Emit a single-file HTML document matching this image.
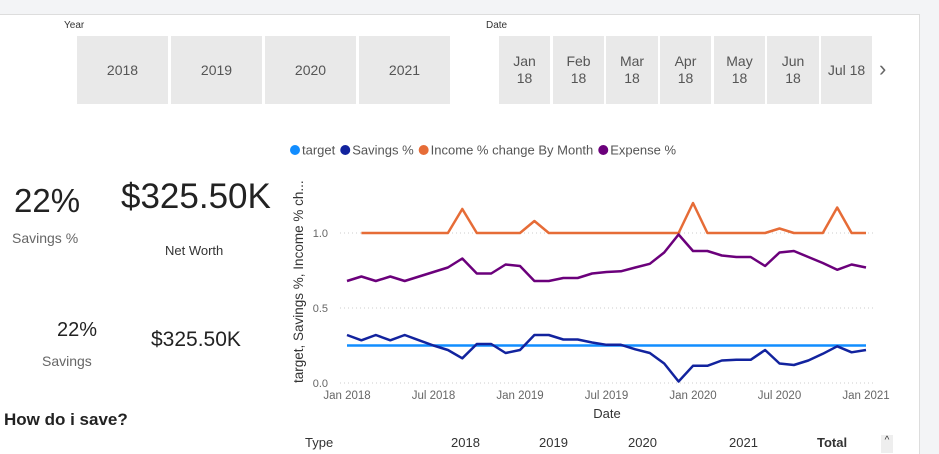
<!DOCTYPE html>
<html><head><meta charset="utf-8"><style>
body{margin:0;width:939px;height:453px;background:#f3f4f6;font-family:"Liberation Sans",sans-serif;overflow:hidden;position:relative}
#panel{position:absolute;left:0;top:14px;width:919px;height:439px;background:#fff;border-top:1px solid #ddd;border-right:1px solid #ddd}
.abs{position:absolute}
.tile{position:absolute;background:#e9e9e9;color:#555;font-size:14px;display:flex;align-items:center;justify-content:center;text-align:center;line-height:17px}
.lbl{font-size:10px;color:#333}
</style></head><body>
<div id="panel"></div>
<div class="abs lbl" style="left:64px;top:20px">Year</div>
<div class="tile" style="left:77px;top:36px;width:91px;height:68px">2018</div>
<div class="tile" style="left:171px;top:36px;width:91px;height:68px">2019</div>
<div class="tile" style="left:265px;top:36px;width:91px;height:68px">2020</div>
<div class="tile" style="left:359px;top:36px;width:91px;height:68px">2021</div>
<div class="abs lbl" style="left:486px;top:20px">Date</div>
<div class="tile" style="left:499px;top:36px;width:51px;height:68px">Jan<br>18</div>
<div class="tile" style="left:553px;top:36px;width:51px;height:68px">Feb<br>18</div>
<div class="tile" style="left:606px;top:36px;width:52px;height:68px">Mar<br>18</div>
<div class="tile" style="left:660px;top:36px;width:51px;height:68px">Apr<br>18</div>
<div class="tile" style="left:714px;top:36px;width:51px;height:68px">May<br>18</div>
<div class="tile" style="left:767px;top:36px;width:52px;height:68px">Jun<br>18</div>
<div class="tile" style="left:821px;top:36px;width:51px;height:68px">Jul 18</div>
<div class="abs" style="left:879px;top:56px;font-size:22px;color:#666">&#8250;</div>

<div class="abs" style="left:14px;top:182px;font-size:33px;color:#222">22%</div>
<div class="abs" style="left:12px;top:230px;font-size:14px;color:#666">Savings %</div>
<div class="abs" style="left:121px;top:177px;font-size:35px;color:#222">$325.50K</div>
<div class="abs" style="left:165px;top:243px;font-size:13px;color:#333">Net Worth</div>
<div class="abs" style="left:57px;top:319px;font-size:20px;color:#222">22%</div>
<div class="abs" style="left:42px;top:353px;font-size:14px;color:#666">Savings</div>
<div class="abs" style="left:151px;top:328px;font-size:21px;color:#222">$325.50K</div>
<div class="abs" style="left:4px;top:410px;font-size:17px;font-weight:bold;color:#222">How do i save?</div>
<div class="abs" style="left:305px;top:435px;font-size:13px;color:#333;width:600px;height:18px">
<span class="abs" style="left:0">Type</span><span class="abs" style="left:146px">2018</span><span class="abs" style="left:234px">2019</span><span class="abs" style="left:323px">2020</span><span class="abs" style="left:424px">2021</span><span class="abs" style="left:512px;font-weight:bold">Total</span><span class="abs" style="left:576px;top:0;width:12px;height:18px;background:#eee;font-size:10px;text-align:center">^</span></div>

<svg class="abs" style="left:0;top:0" width="939" height="453" id="chart"></svg>
<script>
const months=37;
const target=Array(37).fill(0.25);
const savings=[.32,.285,.32,.285,.32,.285,.25,.22,.165,.26,.26,.20,.22,.32,.32,.29,.29,.27,.255,.255,.225,.20,.13,.01,.115,.115,.15,.155,.155,.22,.13,.12,.15,.195,.245,.205,.22];
const income=[null,1,1,1,1,1,1,1,1.16,1,1,1,1,1.08,1,1,1,1,1,1,1,1,1,1,1.2,1,1,1,1,1,1.03,1,1,1,1.17,1,1];
const expense=[.68,.71,.68,.71,.68,.71,.74,.77,.83,.73,.73,.79,.78,.68,.68,.70,.70,.73,.74,.745,.77,.795,.87,.99,.88,.88,.85,.84,.84,.78,.87,.88,.84,.80,.755,.79,.77];
const yTicks=[0,0.5,1.0];
const yTickLabels=["0.0","0.5","1.0"];
const xTickIdx=[0,6,12,18,24,30,36];
const xTickLabels=["Jan 2018","Jul 2018","Jan 2019","Jul 2019","Jan 2020","Jul 2020","Jan 2021"];
const seriesNames=["target","Savings %","Income % change By Month","Expense %"];
const seriesColors=["#118dff","#12239e","#e66c37","#6b007b"];
const NS="http://www.w3.org/2000/svg";
const svg=document.getElementById('chart');
const x=i=>347+i*(866-347)/(months-1);
const y=v=>383-v*150;
function mk(t,a){const e=document.createElementNS(NS,t);for(const k in a)e.setAttribute(k,a[k]);svg.appendChild(e);return e;}
yTicks.forEach((v,i)=>{
 const g=mk('line',{x1:340,x2:875,y1:y(v),y2:y(v),stroke:'#ccc','stroke-dasharray':'1 3'});
 
 
 const t=mk('text',{x:328,y:y(v)+4,'text-anchor':'end','font-size':11,fill:'#666'});t.textContent=yTickLabels[i];
 
 
});
xTickIdx.forEach((idx,i)=>{
 const t=mk('text',{x:x(idx),y:399,'text-anchor':'middle','font-size':11.5,fill:'#666'});t.textContent=xTickLabels[i];
 
 
});
let xt=mk('text',{x:607,y:418,'text-anchor':'middle','font-size':13,fill:'#333'});xt.textContent='Date';


let yt=mk('text',{x:0,y:0,transform:'translate(303,383) rotate(-90)','font-size':13.5,fill:'#333'});yt.textContent='target, Savings %, Income % ch...';


[target,savings,income,expense].forEach((s,k)=>{
 let d='';let pen=false;
 s.forEach((v,i)=>{if(v==null){pen=false;return;}d+=(pen?'L':'M')+x(i).toFixed(1)+','+y(v).toFixed(1);pen=true;});
 const p=mk('path',{d:d,fill:'none',stroke:seriesColors[k],'stroke-width':2.5,'stroke-linejoin':'round'});
 
 
});
let lx=290;
seriesNames.forEach((n,k)=>{
 const c=mk('circle',{cx:lx+5,cy:150,r:5,fill:seriesColors[k]});
 
 
 const t=mk('text',{x:lx+12,y:154.5,'font-size':13,fill:'#555'});t.textContent=n;
 
 
 lx+=12+t.getComputedTextLength()+5;
});
</script>
</body></html>
